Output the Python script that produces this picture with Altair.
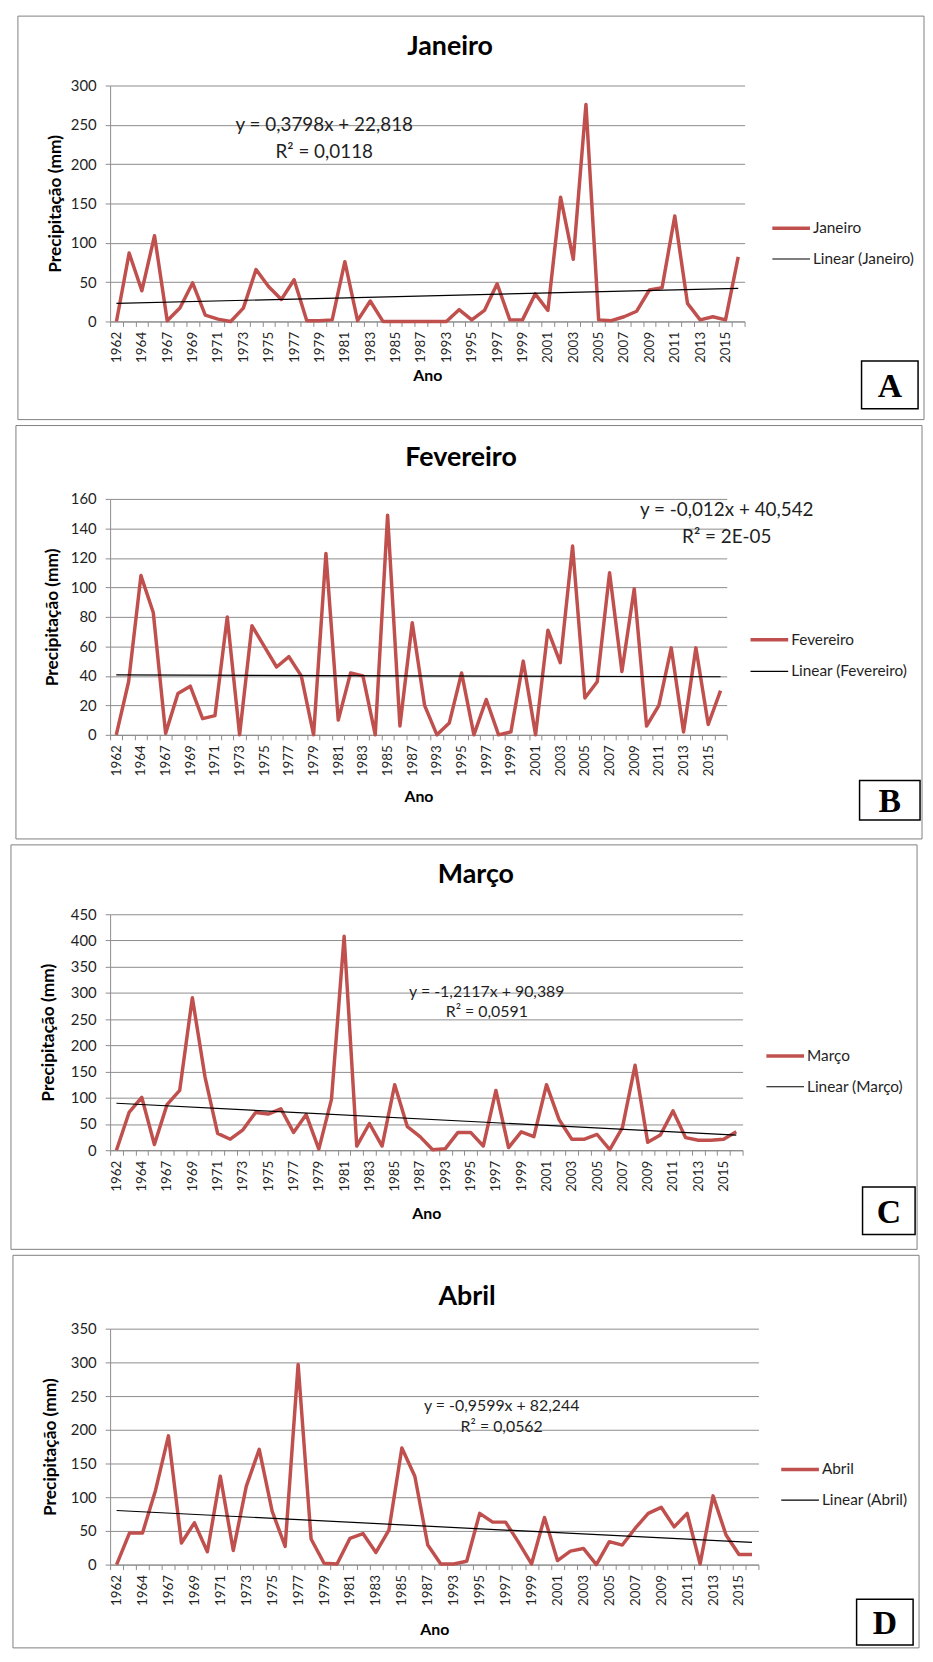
import json
import altair as alt
import pandas as pd

# ---- categories (Excel category axis, 50 years, two gaps) ----
YEARS = ["1962", "1963", "1964", "1966", "1967", "1968", "1969", "1970", "1971", "1972",
         "1973", "1974", "1975", "1976", "1977", "1978", "1979", "1980", "1981", "1982",
         "1983", "1984", "1985", "1986", "1987", "1988", "1993", "1994", "1995", "1996",
         "1997", "1998", "1999", "2000", "2001", "2002", "2003", "2004", "2005", "2006",
         "2007", "2008", "2009", "2010", "2011", "2012", "2013", "2014", "2015", "2016"]

# ---- monthly precipitation (mm) ----
JANEIRO = [0, 87, 39, 109, 1, 17, 49, 8, 3, 0,
           17, 66, 44, 28, 53, 1, 1, 2, 76, 1,
           26, 0, 0, 0, 0, 0, 0, 15, 2, 14,
           48, 2, 2, 35, 14, 158, 79, 276, 2, 1,
           6, 13, 40, 43, 134, 23, 2, 6, 2, 82]
FEVEREIRO = [0, 36, 108, 83, 1, 28, 33, 11, 13, 80,
             0, 74, 60, 46, 53, 40, 0, 123, 10, 42,
             40, 0, 149, 6, 76, 20, 0, 8, 42, 0,
             24, 0, 2, 50, 0, 71, 49, 128, 25, 36,
             110, 43, 99, 6, 20, 59, 2, 59, 7, 30]
MARCO = [0, 72, 101, 11, 87, 114, 291, 140, 32, 21,
         39, 72, 69, 79, 34, 68, 2, 97, 408, 8,
         51, 8, 125, 45, 26, 1, 3, 34, 34, 8,
         114, 5, 35, 26, 125, 58, 21, 21, 30, 1,
         43, 162, 15, 29, 75, 24, 19, 19, 21, 35]
ABRIL = [0, 47, 47, 110, 191, 32, 62, 19, 131, 21,
         116, 171, 79, 27, 297, 38, 2, 1, 39, 46,
         18, 51, 173, 131, 29, 1, 1, 5, 76, 63,
         63, 33, 1, 70, 6, 20, 24, 0, 34, 29,
         54, 76, 85, 56, 76, 1, 102, 44, 15, 15]

# ---- texts ----
EQ = {
    "Janeiro": ("y = 0,3798x + 22,818", "R² = 0,0118"),
    "Fevereiro": ("y = -0,012x + 40,542", "R² = 2E-05"),
    "Março": ("y = -1,2117x + 90,389", "R² = 0,0591"),
    "Abril": ("y = -0,9599x + 82,244", "R² = 0,0562"),
}
LETTERS = {"Janeiro": "A", "Fevereiro": "B", "Março": "C", "Abril": "D"}

RED = "#C0504D"
GRID = "#8c8c8c"
FONT = "Lato"
TXT = "#1f1f1f"

# ---- layout (styling only) ----
GEOM = {
    "Janeiro": dict(w=640, h=238, ymax=300, ystep=50, frame=(-93, -70, 821, 337),
                    title=(343, -39), eq=(216, 40, 67), eqs=19, leg=(668, 144, 175),
                    box=(758, 278, 815, 326), ytx=-55, ano=55),
    "Fevereiro": dict(w=622, h=238, ymax=160, ystep=20, frame=(-95, -74, 819, 343),
                      title=(354, -41), eq=(622, 11, 38), eqs=19, leg=(646, 142, 174),
                      box=(756, 284, 817, 324), ytx=-58, ano=62),
    "Março": dict(w=638, h=238, ymax=450, ystep=50, frame=(-100, -70, 814, 338),
                  title=(369, -40), eq=(380, 78, 99), eqs=16, leg=(662, 143, 174),
                  box=(759, 275, 812, 323), ytx=-62, ano=64),
    "Abril": dict(w=654, h=238, ymax=350, ystep=50, frame=(-98, -74, 816, 322),
                  title=(360, -32), eq=(395, 78, 99), eqs=16, leg=(677, 142, 173),
                  box=(753, 273, 810, 319), ytx=-60, ano=66),
}

one = pd.DataFrame({"k": [0]})


def panel(name, vals):
    g = GEOM[name]
    n = len(vals)
    df = pd.DataFrame({"i": list(range(1, n + 1)), "ano": YEARS, "v": vals})
    xvals = [k / 2 for k in range(1, 2 * n + 2)]
    label_expr = ("(datum.value % 2 == 1) ? " + json.dumps(YEARS) +
                  "[datum.value - 1] : ''")
    xscale = alt.Scale(domain=[0.5, n + 0.5], nice=False, zero=False)
    yscale = alt.Scale(domain=[0, g["ymax"]], nice=False)
    xaxis = alt.Axis(values=xvals, labelExpr=label_expr, labelAngle=-90,
                     labelOverlap=False, labelFlush=False, grid=False,
                     tickSize=5, tickColor=GRID,
                     tickOpacity=alt.condition("datum.value % 1 == 0", alt.value(0), alt.value(1)),
                     domainColor=GRID, labelFont=FONT, labelFontSize=13.5,
                     labelColor=TXT, labelPadding=5,
                     title="Ano", titleFont=FONT, titleFontSize=16,
                     titleFontWeight="bold", titleColor="black",
                     titleBaseline="middle", titleY=g["ano"])
    yaxis = alt.Axis(values=list(range(0, g["ymax"] + 1, g["ystep"])), grid=True,
                     gridColor=GRID, domainColor=GRID, tickColor=GRID, tickSize=5,
                     labelPadding=9, labelFont=FONT, labelFontSize=15, labelColor=TXT,
                     title="Precipitação (mm)", titleFont=FONT, titleFontSize=17.5,
                     titleFontWeight="bold", titleColor="black",
                     titleBaseline="middle", titleX=g["ytx"])
    enc = dict(x=alt.X("i:Q", scale=xscale, axis=xaxis),
               y=alt.Y("v:Q", scale=yscale, axis=yaxis))

    fx1, fy1, fx2, fy2 = g["frame"]
    frame = alt.Chart(one).mark_rect(fillOpacity=0, stroke="#808080", strokeWidth=1).encode(
        x=alt.value(fx1), x2=alt.value(fx2), y=alt.value(fy1), y2=alt.value(fy2))

    line = alt.Chart(df).mark_line(color=RED, strokeWidth=3.5, strokeJoin="round").encode(**enc)
    trend = alt.Chart(df).transform_regression("i", "v").mark_line(
        color="black", strokeWidth=1.2).encode(**enc)

    tx, ty = g["title"]
    title = alt.Chart(one).mark_text(text=name, font=FONT, fontSize=27, fontWeight="bold",
                                     align="center", baseline="middle", color="black").encode(
        x=alt.value(tx), y=alt.value(ty))

    ex, ey1, ey2 = g["eq"]
    e1, e2 = EQ[name]
    eq1 = alt.Chart(one).mark_text(text=e1, font=FONT, fontSize=g["eqs"], align="center",
                                   baseline="middle", color=TXT).encode(
        x=alt.value(ex), y=alt.value(ey1))
    eq2 = alt.Chart(one).mark_text(text=e2, font=FONT, fontSize=g["eqs"], align="center",
                                   baseline="middle", color=TXT).encode(
        x=alt.value(ex), y=alt.value(ey2))

    lx, ly1, ly2 = g["leg"]
    leg1 = alt.Chart(one).mark_rule(color=RED, strokeWidth=3.5).encode(
        x=alt.value(lx), x2=alt.value(lx + 38), y=alt.value(ly1))
    leg1t = alt.Chart(one).mark_text(text=name, font=FONT, fontSize=15.5, align="left",
                                     baseline="middle", color=TXT).encode(
        x=alt.value(lx + 41), y=alt.value(ly1))
    leg2 = alt.Chart(one).mark_rule(color="black", strokeWidth=1.2).encode(
        x=alt.value(lx), x2=alt.value(lx + 38), y=alt.value(ly2))
    leg2t = alt.Chart(one).mark_text(text="Linear (" + name + ")", font=FONT, fontSize=15.5,
                                     align="left", baseline="middle", color=TXT).encode(
        x=alt.value(lx + 41), y=alt.value(ly2))

    bx1, by1, bx2, by2 = g["box"]
    box = alt.Chart(one).mark_rect(fill="white", stroke="black", strokeWidth=1.5).encode(
        x=alt.value(bx1), x2=alt.value(bx2), y=alt.value(by1), y2=alt.value(by2))
    letter = alt.Chart(one).mark_text(text=LETTERS[name], font="Liberation Serif",
                                      fontSize=34, fontWeight="bold", align="center",
                                      baseline="middle", color="black").encode(
        x=alt.value((bx1 + bx2) / 2), y=alt.value((by1 + by2) / 2 + 2))

    return alt.layer(frame, line, trend, title, eq1, eq2, leg1, leg1t, leg2, leg2t,
                     box, letter).properties(width=g["w"], height=g["h"])


chart = alt.vconcat(
    panel("Janeiro", JANEIRO),
    panel("Fevereiro", FEVEREIRO),
    panel("Março", MARCO),
    panel("Abril", ABRIL),
    spacing=4,
).properties(
    padding={"left": 2, "top": 0, "right": 0, "bottom": 0}
).configure_view(strokeWidth=0)

chart.save("out.html", embed_options={"renderer": "svg", "actions": False})
